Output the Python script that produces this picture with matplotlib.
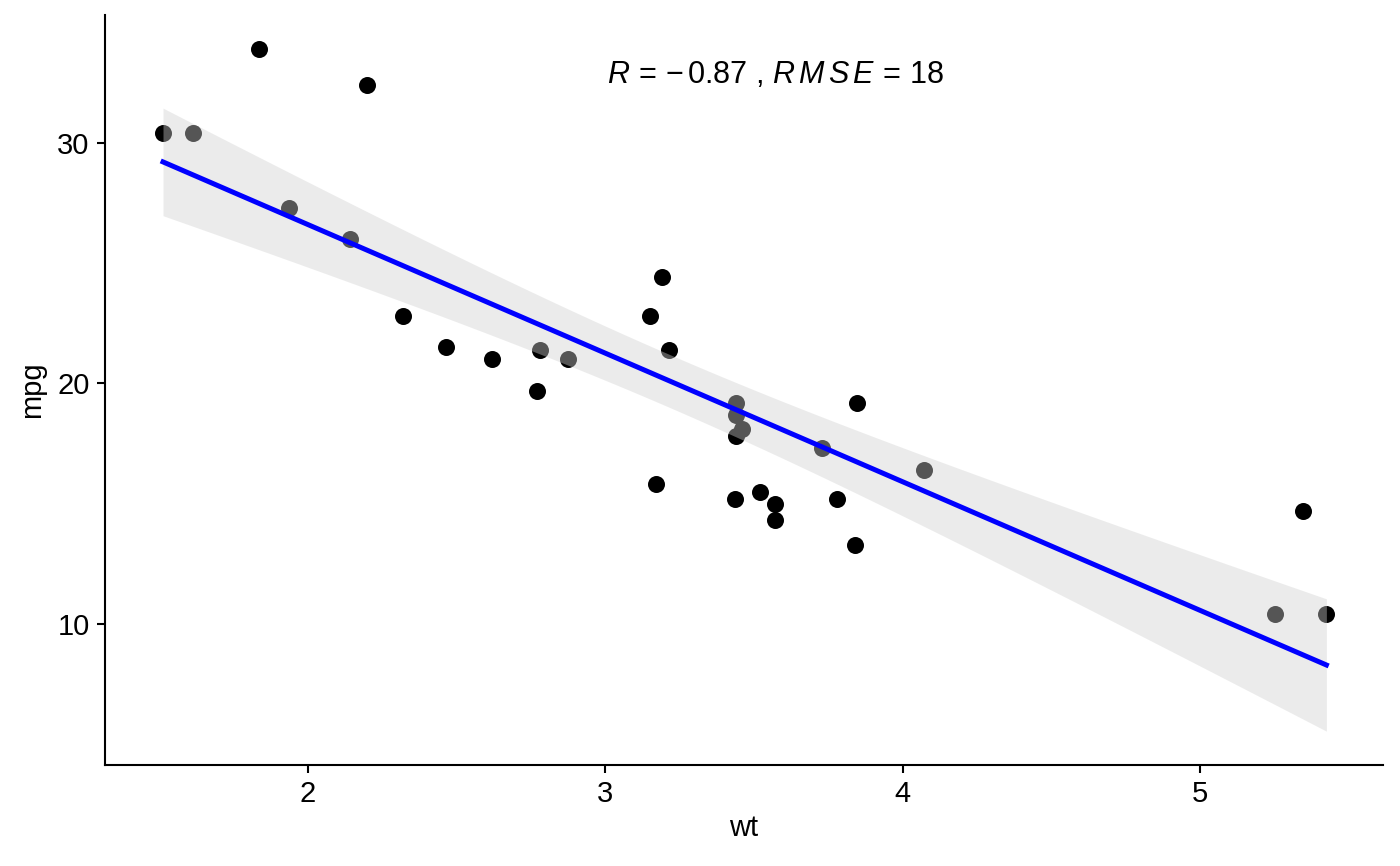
import numpy as np
import matplotlib
matplotlib.use("Agg")
from matplotlib import pyplot as plt

# mtcars: weight (1000 lbs) and miles per gallon
wt = [2.620, 2.875, 2.320, 3.215, 3.440, 3.460, 3.570, 3.190, 3.150, 3.440,
      3.440, 4.070, 3.730, 3.780, 5.250, 5.424, 5.345, 2.200, 1.615, 1.835,
      2.465, 3.520, 3.435, 3.840, 3.845, 1.935, 2.140, 1.513, 3.170, 2.770,
      3.570, 2.780]
mpg = [21.0, 21.0, 22.8, 21.4, 18.7, 18.1, 14.3, 24.4, 22.8, 19.2,
       17.8, 16.4, 17.3, 15.2, 10.4, 10.4, 14.7, 32.4, 30.4, 33.9,
       21.5, 15.5, 15.2, 13.3, 19.2, 27.3, 26.0, 30.4, 15.8, 19.7,
       15.0, 21.4]
stat_label = r"$R\,=\,{-}\,0.87$ , $R\,M\,S\,E\,=\,18$"
xticks = [2, 3, 4, 5]
yticks = [10, 20, 30]

plt.rcParams['font.family'] = ['Liberation Sans', 'DejaVu Sans']
plt.rcParams['mathtext.fontset'] = 'custom'
plt.rcParams['mathtext.rm'] = 'Liberation Sans'
plt.rcParams['mathtext.it'] = 'Liberation Sans:italic'

x = np.array(wt)
y = np.array(mpg)
n = len(x)

# linear fit + 95% confidence band (like geom_smooth(method="lm"))
b1, b0 = np.polyfit(x, y, 1)
resid = y - (b0 + b1 * x)
s = np.sqrt(np.sum(resid ** 2) / (n - 2))
sxx = np.sum((x - x.mean()) ** 2)
tq = 2.0423  # t(0.975, df=30)
xs = np.linspace(x.min(), x.max(), 80)
fit = b0 + b1 * xs
se = s * np.sqrt(1 / n + (xs - x.mean()) ** 2 / sxx)
lo = fit - tq * se
hi = fit + tq * se

fig = plt.figure(figsize=(14, 8.66), dpi=100)
ax = fig.add_axes([0.075, 0.1166, 0.913, 0.866])

ax.scatter(x, y, s=150, color='black', linewidths=0, zorder=1)
ax.fill_between(xs, lo, hi, color=(208/255, 208/255, 208/255), alpha=0.41,
                linewidth=0, zorder=2)
ax.plot(xs, fit, color='blue', linewidth=3.6, zorder=3)

ax.text(3.005, 32.79, stat_label, fontsize=22, ha='left', va='center')

ax.set_xlim(1.318, 5.615)
ax.set_ylim(4.14, 35.3)
ax.set_xticks(xticks)
ax.set_yticks(yticks)
ax.tick_params(labelsize=21, width=1.5, length=6, pad=5, colors='black')
ax.set_xlabel('wt', fontsize=21, labelpad=4)
ax.set_ylabel('mpg', fontsize=21, labelpad=8)

for side in ['top', 'right']:
    ax.spines[side].set_visible(False)
for side in ['left', 'bottom']:
    ax.spines[side].set_linewidth(1.5)

fig.savefig('out.png', dpi=100)
